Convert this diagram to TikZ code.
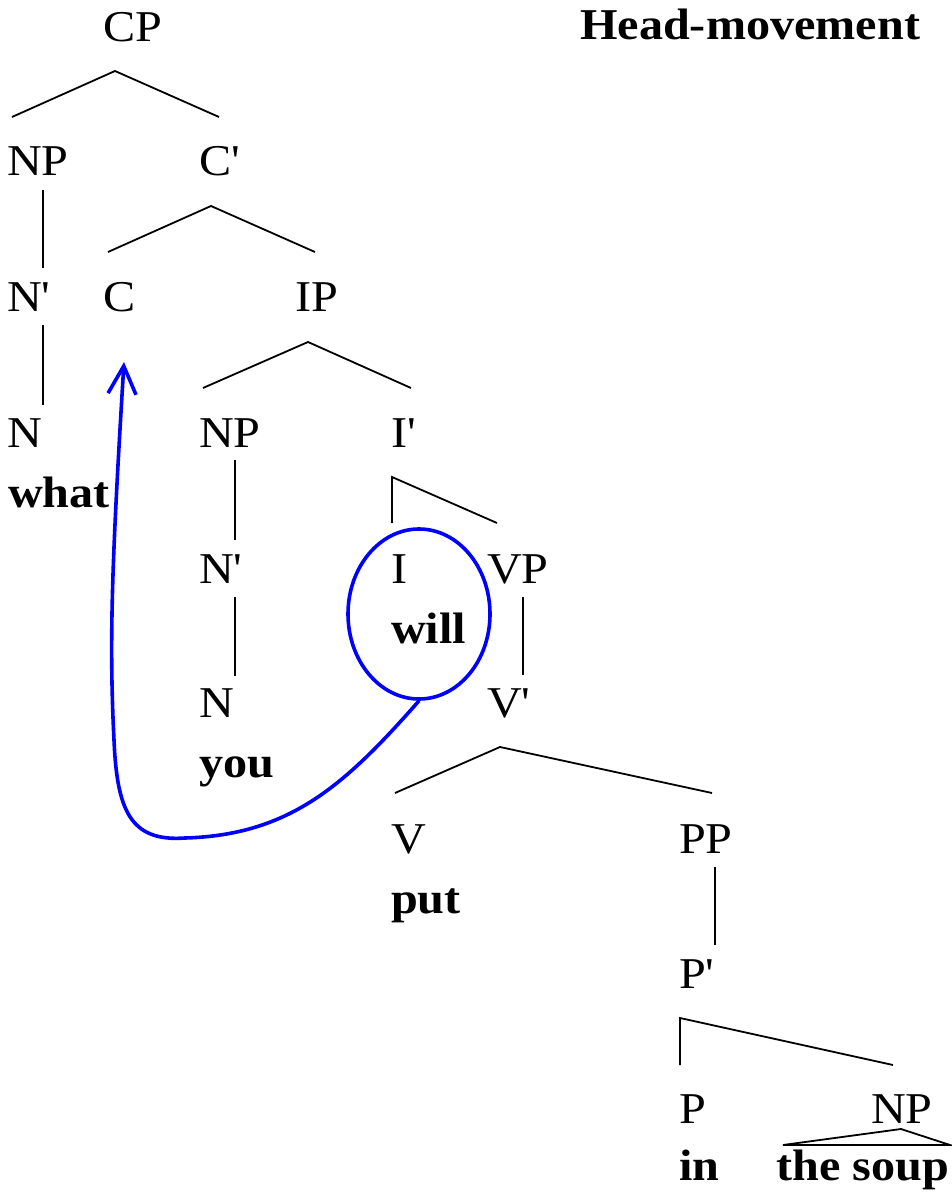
\documentclass[tikz,border=0pt]{standalone}
\usepackage{fontspec}
\setmainfont[FakeStretch=1.095,Ligatures=TeXOff]{Liberation Serif}
\usetikzlibrary{arrows.meta,shapes.geometric}

\tikzset{
  lab/.style={anchor=base west, inner sep=0pt, font=\fontsize{44}{50}\selectfont},
  wd/.style={lab, font=\fontsize{44}{50}\selectfont\bfseries},
  br/.style={line width=1.8pt},
  mv/.style={draw=blue, line width=3.6pt},
}

\begin{document}
\begin{tikzpicture}[x=1pt, y=-1pt]
\useasboundingbox (0,0) rectangle (951,1193);
% labels
\node[lab] (cp)    at (103,42)   {CP};
\node[wd]  (title) at (580,40)   {Head-movement};
\node[lab] (np1)   at (7,176)    {NP};
\node[lab] (cbar)  at (199,176)  {C'};
\node[lab] (nbar1) at (7,311)    {N'};
\node[lab] (c)     at (103,311)  {C};
\node[lab] (ip)    at (295,311)  {IP};
\node[lab] (n1)    at (7,447)    {N};
\node[wd]  (what)  at (8,507)    {what};
\node[lab] (np2)   at (199,447)  {NP};
\node[lab] (ibar)  at (391,447)  {I'};
\node[lab] (nbar2) at (199,583)  {N'};
\node[lab] (i)     at (391,583)  {I};
\node[lab] (vp)    at (487,583)  {VP};
\node[wd]  (will)  at (391,643)  {will};
\node[lab] (n2)    at (199,717)  {N};
\node[lab] (vbar)  at (487,717)  {V'};
\node[wd]  (you)   at (199,777)  {you};
\node[lab] (v)     at (391,853)  {V};
\node[lab] (pp)    at (679,853)  {PP};
\node[wd]  (put)   at (391,913)  {put};
\node[lab] (pbar)  at (679,988)  {P'};
\node[lab] (p)     at (679,1123) {P};
\node[lab] (np3)   at (871,1123) {NP};
\node[wd]  (in)    at (679,1180) {in};
\node[wd]  (soup)  at (776,1180) {the soup};
% branch points
\coordinate (cp-a) at (115,71);   \coordinate (cp-l) at (12,117);   \coordinate (cp-r) at (219,117);
\coordinate (cb-a) at (211,206);  \coordinate (cb-l) at (108,252);  \coordinate (cb-r) at (315,252);
\coordinate (ip-a) at (308,342);  \coordinate (ip-l) at (203,388);  \coordinate (ip-r) at (411,388);
\coordinate (ib-a) at (392,477);  \coordinate (ib-l) at (392,523);  \coordinate (ib-r) at (497,523);
\coordinate (vb-a) at (500,747);  \coordinate (vb-l) at (395,793);  \coordinate (vb-r) at (712,793);
\coordinate (pb-a) at (680,1018); \coordinate (pb-l) at (680,1065); \coordinate (pb-r) at (893,1065);
\coordinate (tri-a) at (901,1129); \coordinate (tri-l) at (783,1145); \coordinate (tri-r) at (950,1145);
\foreach \b in {cp,cb,ip,ib,vb,pb}
  \draw[br] (\b-l) -- (\b-a) -- (\b-r);
\draw[br] (tri-l) -- (tri-a) -- (tri-r) -- cycle;
% unary lines
\draw[br] (43,190) -- (43,268);
\draw[br] (43,325) -- (43,405);
\draw[br] (235,460) -- (235,540);
\draw[br] (235,597) -- (235,676);
\draw[br] (523,597) -- (523,675);
\draw[br] (715,867) -- (715,945);
% movement
\node[mv, ellipse, inner sep=0pt, minimum width=142pt, minimum height=170pt] (ring) at (419,614) {};
\coordinate (land) at (124,362);
\draw[mv, -{Straight Barb[length=28pt,width=28pt]}] (ring.south)
  .. controls (345,785) and (290,835) .. (185,838)
  .. controls (130,842) and (117,810) .. (114,740)
  .. controls (109,640) and (112,560) .. (land);
\end{tikzpicture}
\end{document}
